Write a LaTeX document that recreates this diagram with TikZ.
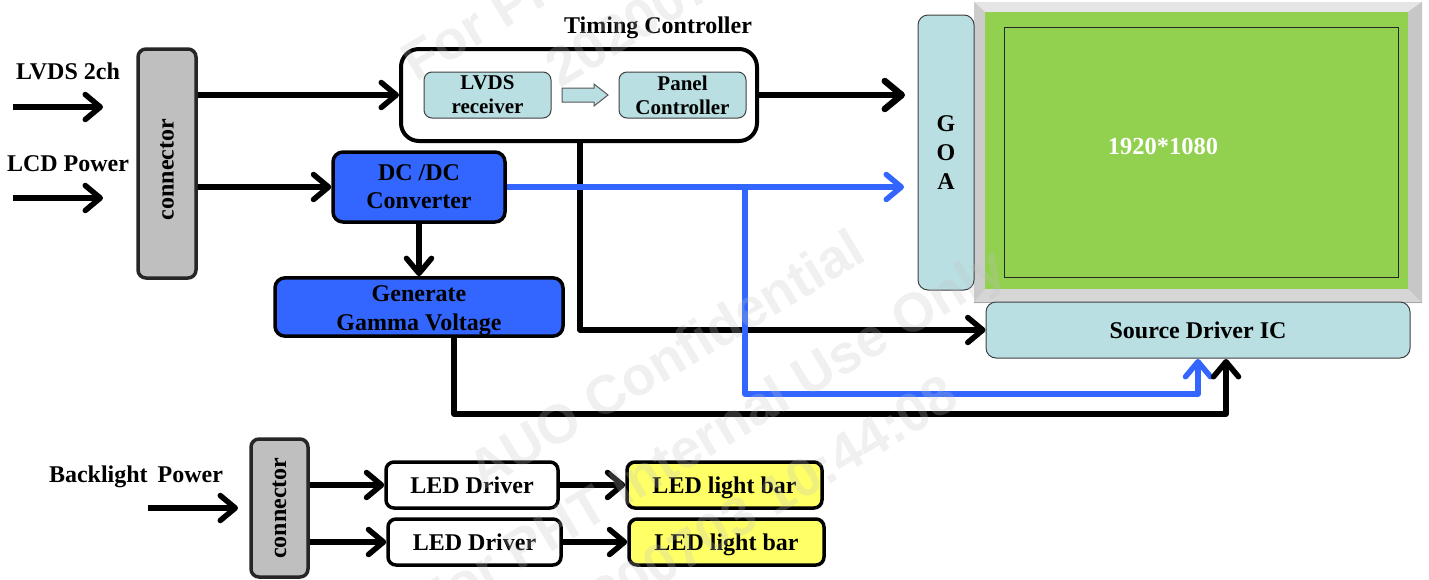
\documentclass[tikz,border=0pt]{standalone}
\usepackage{fontspec}
\setmainfont{Liberation Serif}
\newfontfamily\wmfont{Liberation Sans}
\usetikzlibrary{arrows.meta,calc}
\definecolor{tealbox}{HTML}{B9DFE3}
\definecolor{blueflow}{HTML}{3366FF}
\definecolor{greypart}{HTML}{BFBFBF}
\definecolor{panelgreen}{HTML}{92D050}
\definecolor{lightbar}{HTML}{FFFF66}
\definecolor{wmgrey}{HTML}{C2C2C2}
\tikzset{
  x=1pt,y=-1pt,
  sz/.style 2 args={minimum width=#1pt,minimum height=#2pt},
  lbl/.style={font=\fontsize{24}{24}\selectfont\bfseries,inner sep=0pt,align=center,text=black},
  oneline/.style={text height=16pt,text depth=0pt},
  box/.style={lbl,rectangle,draw=black,line width=3.5pt,rounded corners=8pt,inner sep=0pt},
  tealnode/.style={lbl,rectangle,draw=black!75,line width=1pt,rounded corners=8pt,fill=tealbox},
  smalltext/.style={font=\fontsize{21}{24}\selectfont\bfseries},
  bluenode/.style={box,fill=blueflow},
  yellownode/.style={box,fill=lightbar},
  whitenode/.style={box,fill=white},
  greynode/.style={box,fill=greypart,draw=black!85},
  flow/.style={line width=5.5pt,draw=black,line join=round,-{Straight Barb[length=15pt,width=25pt,round]}},
  heavyflow/.style={flow,line width=6.5pt,-{Straight Barb[length=17pt,width=28pt,round]}},
  blueflowline/.style={flow,draw=blueflow},
  wm/.style={font=\wmfont\fontsize{54.5}{60}\selectfont\bfseries,text=wmgrey,opacity=.25,rotate=31,inner sep=0pt},
}
\begin{document}
\begin{tikzpicture}
\useasboundingbox (0,0) rectangle (1429,579);
% panel bezel
\fill[greypart!85] (974,2) rectangle (1422,303);
\fill[black!10] (974,2) -- (1422,2) -- (1408,12) -- (985,12) -- cycle;
\fill[black!20] (974,2) -- (985,12) -- (985,289) -- (974,303) -- cycle;
\fill[black!22] (1422,2) -- (1408,12) -- (1408,289) -- (1422,303) -- cycle;
\fill[black!16] (974,303) -- (985,289) -- (1408,289) -- (1422,303) -- cycle;
\fill[black!35] (974,301.5) rectangle (1422,303);
\node[rectangle,fill=panelgreen,sz={423}{277},inner sep=0pt] (panel) at (1196.5,150.5) {};
\node[rectangle,draw=black!85,line width=1pt,fill=panelgreen,sz={394}{250},inner sep=0pt] (active) at (1201,152) {};
\node[lbl,text=white,font=\fontsize{24.5}{24}\selectfont\bfseries] (res) at (1163,146) {1920*1080};
% labels
\node[lbl] (lvdsin) at (68,71) {LVDS 2ch};
\node[lbl] (lcdin) at (68,164) {LCD Power};
\node[lbl] (tctitle) at (658,28) {Timing Controller};
\node[lbl] (blin) at (136,477) {Backlight\, Power};
% boxes
\node[greynode,sz={58}{229}] (conn1) at (167,163.5) {\rotatebox{90}{connector\hspace{12pt}}};
\node[box,fill=white,line width=4pt,rounded corners=18pt,sz={356}{92}] (timing) at (579,95) {};
\node[tealnode,smalltext,sz={127}{46}] (rx) at (487.5,95) {LVDS\\receiver};
\node[tealnode,smalltext,sz={127}{46}] (pc) at (682.5,95) {Panel\\Controller};
\node[bluenode,rounded corners=10pt,sz={172}{70}] (dc) at (419,187) {DC /DC\\[4pt]Converter};
\node[bluenode,sz={288}{58},rounded corners=10pt] (gamma) at (419,307) {\rule{0pt}{24pt}Generate\\[5pt]Gamma Voltage};
\node[tealnode,rounded corners=10pt,sz={56}{275}] (goa) at (946,152.5) {G\\[5pt]O\\[5pt]A};
\node[tealnode,rounded corners=10pt,sz={424}{56}] (sd) at (1198,330) {Source Driver IC};
\node[greynode,sz={57}{138}] (conn2) at (279.5,508) {\rotatebox{90}{connector}};
\node[whitenode,oneline,sz={172}{46}] (led1) at (472,485) {LED Driver};
\node[whitenode,oneline,sz={173}{46}] (led2) at (474.5,542) {LED Driver};
\node[yellownode,oneline,sz={195}{46}] (bar1) at (724.5,485) {LED light bar};
\node[yellownode,oneline,sz={195}{46}] (bar2) at (726.5,542) {LED light bar};
% block arrow inside timing controller
\draw[draw=black!65,line width=1pt,fill=tealbox] (562,88) -- (594,88) -- (594,84) -- (608,95) -- (594,106) -- (594,102) -- (562,102) -- cycle;
% free ends and routing points
\coordinate (lvdsS) at (13,107);
\coordinate (lvdsE) at (103,107);
\coordinate (lcdS) at (13,198);
\coordinate (lcdE) at (103,198);
\coordinate (blS) at (148,508);
\coordinate (blE) at (238,508);
\coordinate (goaTc) at (905,95);
\coordinate (goaDc) at (904,187);
\coordinate (tcDown) at (580,141);
\coordinate (tcCorner) at (580,330);
\coordinate (blueJoin) at (745,187);
\coordinate (blueCorner) at (745,394);
\coordinate (blueEnd) at (1198,394);
\coordinate (blueTip) at (1198,359);
\coordinate (gammaDown) at (454,336);
\coordinate (gammaCorner) at (454,414);
\coordinate (gammaEnd) at (1226,414);
\coordinate (gammaTip) at (1226,359);
% connectors
\draw[flow] (lvdsS) -- (lvdsE);
\draw[flow] (lcdS) -- (lcdE);
\draw[flow] (blS) -- (blE);
\draw[flow] (conn1.east |- timing.west) -- (timing.west);
\draw[flow] (conn1.east |- dc.west) -- (dc.west);
\draw[heavyflow] (timing.east) -- (goaTc);
\draw[flow] (dc.south) -- (gamma.north);
\draw[flow] (tcDown) -- (tcCorner) -- (sd.west |- tcCorner);
\draw[blueflowline] (blueJoin) -- (blueCorner) -- (blueEnd) -- (blueTip);
\draw[flow] (gammaDown) -- (gammaCorner) -- (gammaEnd) -- (gammaTip);
\draw[blueflowline] (dc.east) -- (goaDc);
\draw[flow] (led1.east) -- (bar1.west);
\draw[flow] (led2.east) -- (bar2.west);
\draw[flow] (conn2.east |- led1.west) -- (led1.west);
\draw[flow] (conn2.east |- led2.west) -- (led2.west);
% watermark
\begin{scope}
\clip (0,0) rectangle (1429,579);
\node[wm,anchor=base west] (wa) at (482,492) {AUO Confidential};
\node[wm,anchor=base west] (wb) at (430,625) {For PHT Internal Use Only};
\node[wm,anchor=base east] (wc) at (962,405) {20200703 10:44:08};
\node[wm,anchor=base west] (wd) at (416,83) {For PHT Internal Use Only};
\node[wm,anchor=base west] (we) at (560,89) {20200703 10:44:08};
\end{scope}
\end{tikzpicture}
\end{document}
